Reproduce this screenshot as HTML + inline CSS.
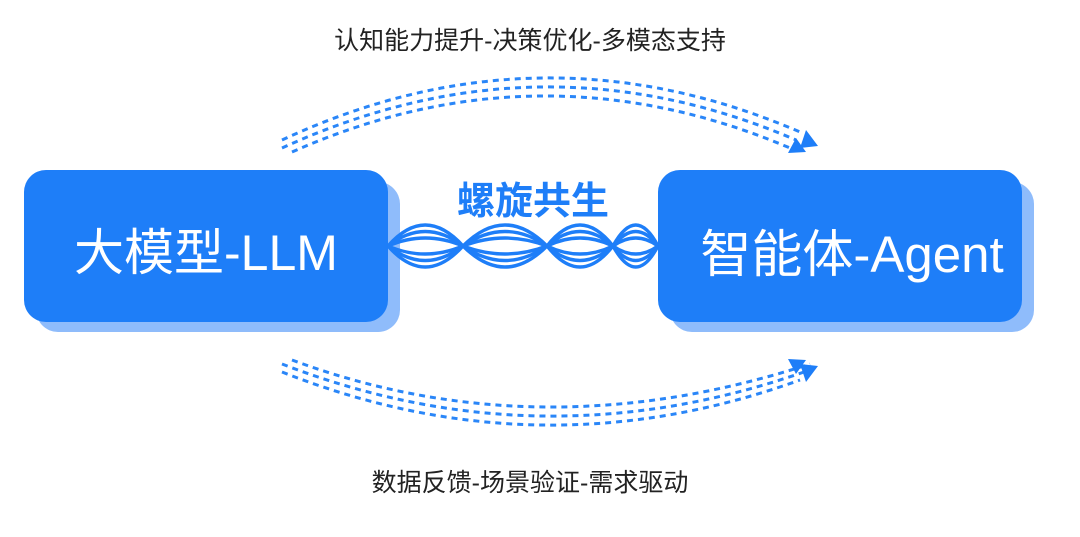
<!DOCTYPE html>
<html><head><meta charset="utf-8"><style>
body{margin:0;width:1080px;height:537px;background:#fff;overflow:hidden;position:relative;font-family:"Liberation Sans","Noto Sans CJK SC",sans-serif}
.t{position:absolute;white-space:nowrap}
</style></head><body>
<svg width="1080" height="537" style="position:absolute;left:0;top:0">
<rect x="36" y="182" width="364" height="150" rx="22" fill="#8fbcfb"/>
<rect x="24" y="170" width="364" height="152" rx="22" fill="#1e7ef8"/>
<rect x="670" y="182" width="364" height="150" rx="22" fill="#8fbcfb"/>
<rect x="658" y="170" width="364" height="152" rx="22" fill="#1e7ef8"/>
<g fill="none" stroke="#1e7ef8" stroke-width="3.4">
<path d="M388 246 Q425 204 463 246 Q505 204 547 246 Q580 204 613 246 Q636 204 658 246"/>
<path d="M388 246 Q425 288 463 246 Q505 288 547 246 Q580 288 613 246 Q636 288 658 246"/>
<path d="M388 246 Q425 217 463 246 Q505 217 547 246 Q580 217 613 246 Q636 217 658 246"/>
<path d="M388 246 Q425 275 463 246 Q505 275 547 246 Q580 275 613 246 Q636 275 658 246"/>
<path d="M388 246 Q425 230 463 246 Q505 230 547 246 Q580 230 613 246 Q636 230 658 246"/>
<path d="M388 246 Q425 262 463 246 Q505 262 547 246 Q580 262 613 246 Q636 262 658 246"/>
</g>
<g fill="none" stroke="#2a86f8" stroke-width="3" stroke-dasharray="6 5">
<path d="M282 140 Q540 20 800 132"/>
<path d="M282 148 Q540 30 796 140"/>
<path d="M292 152 Q540 42 790 148"/>
<path d="M282 372 Q540 474 800 380"/>
<path d="M282 364 Q540 464 804 372"/>
<path d="M292 360 Q540 452 810 364"/>
</g>
<g fill="#1e7ef8">
<polygon points="806,130 818,146 800,148"/>
<polygon points="796,138 806,152 788,153"/>
<polygon points="806,382 818,366 800,364"/>
<polygon points="796,374 806,360 788,359"/>
</g>
</svg>
<div class="t" style="left:0;width:1060px;text-align:center;top:21px;font-size:25px;color:#222">认知能力提升-决策优化-多模态支持</div>
<div class="t" style="left:0;width:1060px;text-align:center;top:463px;font-size:25px;color:#222">数据反馈-场景验证-需求驱动</div>
<div class="t" style="left:0;width:1066px;text-align:center;top:170px;font-size:38px;font-weight:bold;color:#1e7ef8">螺旋共生</div>
<div class="t" style="left:24px;width:364px;text-align:center;top:213px;font-size:50px;color:#fff">大模型-LLM</div>
<div class="t" style="left:670px;width:364px;text-align:center;top:213px;font-size:51px;color:#fff">智能体-Agent</div>
</body></html>
